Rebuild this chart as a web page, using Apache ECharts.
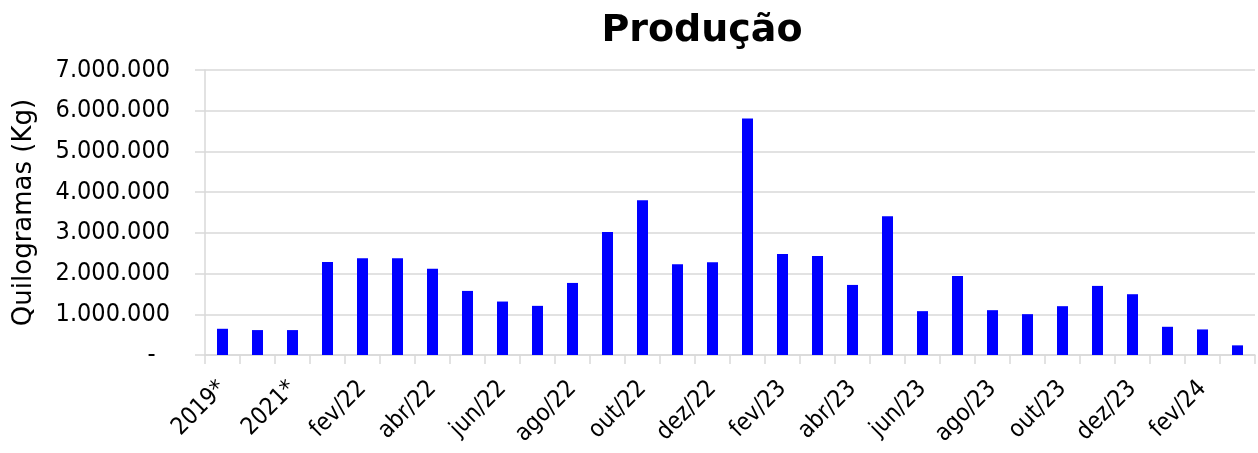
<!DOCTYPE html>
<html>
<head>
<meta charset="utf-8">
<script src="https://cdn.jsdelivr.net/npm/echarts@6/dist/echarts.min.js"></script>
<style>html,body{margin:0;padding:0;background:#fff}#c{width:1258px;height:453px}</style>
</head>
<body>
<div id="c"></div>
<script>
const categories = ['2019*','2020*','2021*','jan/22','fev/22','mar/22','abr/22','mai/22','jun/22','jul/22','ago/22','set/22','out/22','nov/22','dez/22','jan/23','fev/23','mar/23','abr/23','mai/23','jun/23','jul/23','ago/23','set/23','out/23','nov/23','dez/23','jan/24','fev/24','mar/24'];
const producao = [644000,612000,612000,2284000,2374000,2374000,2121000,1574000,1313000,1207000,1770000,3018000,3801000,2227000,2276000,5808000,2480000,2431000,1721000,3410000,1077000,1941000,1101000,1003000,1199000,1697000,1493000,693000,628000,237000];
const yTicks = { min: 0, max: 7000000, interval: 1000000 };

const font = 'DejaVu Sans Condensed';
function fmt(v){
  if (v === 0) return '-  ';
  return String(Math.round(v)).replace(/\B(?=(\d{3})+(?!\d))/g, '.');
}
const chart = echarts.init(document.getElementById('c'));
chart.setOption({
  animation: false,
  title: { text: 'Produção', left: 697, top: 7, textAlign: 'center',
    textStyle: { fontFamily: 'DejaVu Sans', fontWeight: 'bold', fontSize: 38, color: '#000' } },
  grid: { left: 205, right: 3, top: 70, bottom: 98, containLabel: false, outerBoundsMode: 'none' },
  xAxis: {
    type: 'category', data: categories,
    axisLine: { lineStyle: { color: '#d9d9d9', width: 1.5 } },
    axisTick: { show: true, length: 9, interval: 0, lineStyle: { color: '#d9d9d9', width: 1.5 } },
    axisLabel: { interval: 1, rotate: 45, fontFamily: font, fontSize: 24, color: '#000', margin: 30 }
  },
  yAxis: {
    type: 'value', min: yTicks.min, max: yTicks.max, interval: yTicks.interval,
    name: 'Quilogramas (Kg)', nameLocation: 'middle', nameGap: 168,
    nameTextStyle: { fontFamily: 'DejaVu Sans', fontSize: 26, color: '#000' },
    axisLine: { show: true, lineStyle: { color: '#d9d9d9', width: 1.5 } },
    axisTick: { show: true, length: 10, lineStyle: { color: '#d9d9d9', width: 1.5 } },
    splitLine: { lineStyle: { color: '#d9d9d9', width: 1.5 } },
    axisLabel: { formatter: fmt, fontFamily: font, fontSize: 25, color: '#000', margin: 35 }
  },
  series: [{
    type: 'bar', data: producao, barWidth: 11,
    itemStyle: { color: '#0000ff' }
  }]
});
</script>
</body>
</html>
